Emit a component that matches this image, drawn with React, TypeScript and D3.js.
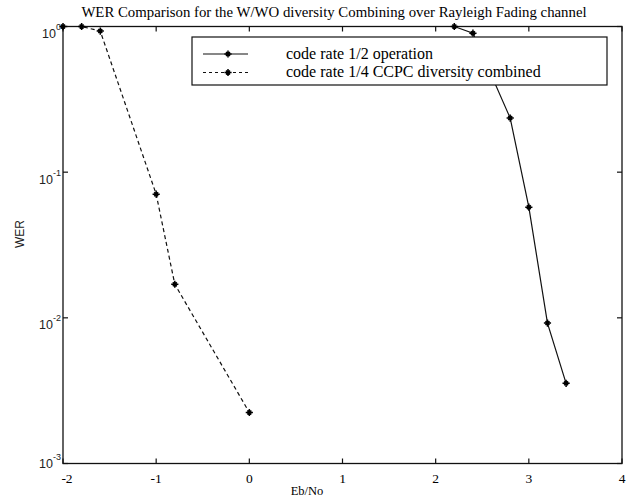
import React, { useRef, useEffect } from "react";
import * as d3 from "d3";

// data
const ebNoHalf = [2.2, 2.4, 2.8, 3.0, 3.2, 3.4];
const werHalf = [1.0, 0.9, 0.235, 0.0575, 0.0092, 0.00355];

const ebNoQuarter = [-2, -1.8, -1.6, -1, -0.8, 0];
const werQuarter = [1.0, 1.0, 0.93, 0.0706, 0.017, 0.00224];

const xTicks = [-2, -1, 0, 1, 2, 3, 4];
const yTicks = [1, 0.1, 0.01, 0.001];

const legendLabels = [
  "code rate 1/2 operation",
  "code rate 1/4 CCPC diversity combined",
];

const title =
  "WER Comparison for the W/WO diversity Combining over Rayleigh Fading channel";

export default function App() {
  const svgRef = useRef<SVGSVGElement>(null);

  useEffect(() => {
    const width = 631;
    const height = 501;
    const svg = d3.select(svgRef.current);
    svg.selectAll("*").remove();
    svg.attr("width", width).attr("height", height);

    const left = 63;
    const right = 622;
    const top = 26.5;
    const bottom = 463.5;

    const x = d3.scaleLinear().domain([-2, 4]).range([left, right]);
    const y = d3.scaleLog().domain([0.001, 1]).range([bottom, top]);

    svg.append("rect").attr("width", width).attr("height", height).attr("fill", "#fff");

    const serif = "'Liberation Serif', 'Times New Roman', serif";
    const sans = "'Liberation Sans', Arial, sans-serif";

    // title
    svg
      .append("text")
      .attr("x", 334)
      .attr("y", 17)
      .attr("text-anchor", "middle")
      .attr("font-family", serif)
      .attr("font-size", 14.8)
      .text(title);

    // frame
    svg
      .append("rect")
      .attr("x", left)
      .attr("y", top)
      .attr("width", right - left)
      .attr("height", bottom - top)
      .attr("fill", "none")
      .attr("stroke", "#111")
      .attr("stroke-width", 1.3);

    const tickLen = 5;
    const ticks = svg.append("g").attr("stroke", "#111").attr("stroke-width", 1.2);

    xTicks.forEach((t) => {
      ticks.append("line").attr("x1", x(t)).attr("x2", x(t)).attr("y1", bottom).attr("y2", bottom - tickLen);
      ticks.append("line").attr("x1", x(t)).attr("x2", x(t)).attr("y1", top).attr("y2", top + tickLen);
    });
    yTicks.forEach((t) => {
      ticks.append("line").attr("x1", left).attr("x2", left + tickLen).attr("y1", y(t)).attr("y2", y(t));
      ticks.append("line").attr("x1", right).attr("x2", right - tickLen).attr("y1", y(t)).attr("y2", y(t));
    });

    // x tick labels
    svg
      .append("g")
      .selectAll("text")
      .data(xTicks)
      .join("text")
      .attr("x", (d) => x(d) + (d === -2 ? 4 : 0))
      .attr("y", bottom + 19)
      .attr("text-anchor", "middle")
      .attr("font-family", serif)
      .attr("font-size", 13.5)
      .text((d) => String(d));

    // y tick labels (10^n)
    const yl = svg
      .append("g")
      .selectAll("text")
      .data(yTicks)
      .join("text")
      .attr("x", left - 2)
      .attr("y", (d) => y(d) + (d === 0.001 ? 4 : 11.5))
      .attr("text-anchor", "end")
      .attr("font-family", sans)
      .attr("font-size", 12.5)
      .attr("fill", "#222");
    yl.append("tspan").text("10");
    yl.append("tspan")
      .attr("dy", -8)
      .attr("font-size", 9)
      .text((d) => String(Math.round(Math.log10(d))));

    // axis titles
    svg
      .append("text")
      .attr("x", 307)
      .attr("y", 495)
      .attr("text-anchor", "middle")
      .attr("font-family", serif)
      .attr("font-size", 12.5)
      .text("Eb/No");

    svg
      .append("text")
      .attr("transform", `translate(24,234) rotate(-90)`)
      .attr("text-anchor", "middle")
      .attr("font-family", sans)
      .attr("font-size", 12)
      .attr("fill", "#222")
      .text("WER");

    const line = d3
      .line<[number, number]>()
      .x((d) => x(d[0]))
      .y((d) => y(d[1]));

    const half: [number, number][] = ebNoHalf.map((e, i) => [e, werHalf[i]]);
    const quarter: [number, number][] = ebNoQuarter.map((e, i) => [e, werQuarter[i]]);

    const drawStar = (g: any, cx: number, cy: number) => {
      const s = 3.6;
      const d = s * 0.55;
      g.append("path")
        .attr(
          "d",
          `M${cx - s},${cy}H${cx + s}M${cx},${cy - s}V${cy + s}` +
            `M${cx - d},${cy - d}L${cx + d},${cy + d}M${cx - d},${cy + d}L${cx + d},${cy - d}`
        )
        .attr("stroke", "#000")
        .attr("stroke-width", 1.5)
        .attr("fill", "none");
    };

    const plot = svg.append("g");
    plot
      .append("path")
      .datum(half)
      .attr("d", line)
      .attr("fill", "none")
      .attr("stroke", "#111")
      .attr("stroke-width", 1.2);
    plot
      .append("path")
      .datum(quarter)
      .attr("d", line)
      .attr("fill", "none")
      .attr("stroke", "#111")
      .attr("stroke-width", 1.2)
      .attr("stroke-dasharray", "4,3");

    half.forEach((p) => drawStar(plot, x(p[0]), y(p[1])));
    quarter.forEach((p) => drawStar(plot, x(p[0]), y(p[1])));

    // legend
    const lg = svg.append("g");
    lg.append("rect")
      .attr("x", 192)
      .attr("y", 37)
      .attr("width", 415)
      .attr("height", 48)
      .attr("fill", "#fff")
      .attr("stroke", "#111")
      .attr("stroke-width", 1.2);

    legendLabels.forEach((label, i) => {
      const ly = 54 + i * 18.5;
      lg.append("line")
        .attr("x1", 203)
        .attr("x2", 248)
        .attr("y1", ly)
        .attr("y2", ly)
        .attr("stroke", "#111")
        .attr("stroke-width", 1.2)
        .attr("stroke-dasharray", i === 1 ? "3,3" : null);
      drawStar(lg, 228, ly);
      lg.append("text")
        .attr("x", 286)
        .attr("y", ly + 4.5)
        .attr("font-family", serif)
        .attr("font-size", 16)
        .text(label);
    });
  }, []);

  return (
    <svg
      ref={svgRef}
      style={{ position: "absolute", left: 0, top: 0, display: "block" }}
    />
  );
}
